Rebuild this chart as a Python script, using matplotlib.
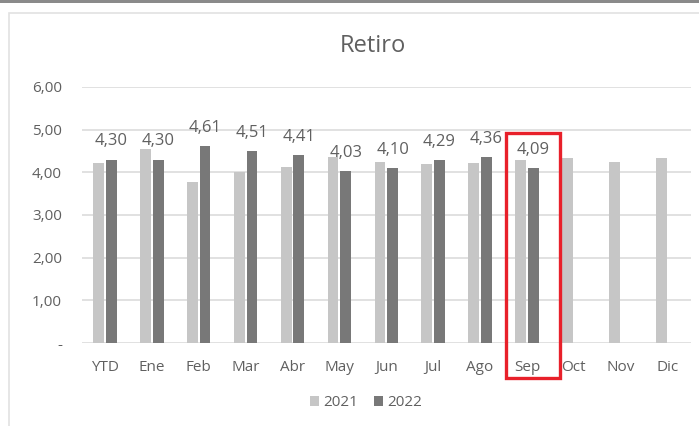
import numpy as np
import matplotlib as mpl
import matplotlib.pyplot as plt
from matplotlib.patches import Rectangle

### DATA --------------------------------------------------------------------------
categories = ['YTD', 'Ene', 'Feb', 'Mar', 'Abr', 'May', 'Jun',
              'Jul', 'Ago', 'Sep', 'Oct', 'Nov', 'Dic']
vals_2021 = [4.22, 4.54, 3.77, 4.00, 4.12, 4.35, 4.24,
             4.19, 4.21, 4.30, 4.33, 4.24, 4.33]
vals_2022 = [4.30, 4.30, 4.61, 4.51, 4.41, 4.03, 4.10,
             4.29, 4.36, 4.09]
yticks = [0, 1, 2, 3, 4, 5, 6]
ytick_labels = ['-', '1,00', '2,00', '3,00', '4,00', '5,00', '6,00']
highlight = 'Sep'
###--------------------------------------------------------------------------------

plt.rcParams['font.family'] = ['Open Sans', 'DejaVu Sans']
txt_col = '#606060'
c21 = '#c6c6c6'
c22 = '#787878'

fig = plt.figure(figsize=(6.99, 4.26), dpi=100)
fig.patch.set_facecolor('white')

# screenshot frame: dark top band + light chart border
fig.add_artist(Rectangle((0, 1 - 3/426), 1, 3/426, transform=fig.transFigure,
                         facecolor='#8a8a8a', edgecolor='none'))
fig.add_artist(Rectangle((9/699, -0.02), 1.0, 1 - 13/426 + 0.02,
                         transform=fig.transFigure, facecolor='none',
                         edgecolor='#e2e2e2', lw=1.2))

ax = fig.add_axes([81.5/699, 83/426, 609.5/699, 256/426])

x = np.arange(len(categories))
w = 0.23
off = 0.135
ax.bar(x - off, vals_2021, width=w, color=c21, label='2021', zorder=3)
x22 = x[:len(vals_2022)]
ax.bar(x22 + off, vals_2022, width=w, color=c22, label='2022', zorder=3)

for xi, v in zip(x22, vals_2022):
    ax.annotate(f'{v:.2f}'.replace('.', ','), (xi + off, v),
                xytext=(0, 13), textcoords='offset points',
                ha='center', va='center', fontsize=12, color=txt_col)

ax.set_xlim(-0.5, len(categories) - 0.5)
ax.set_ylim(0, 6)
ax.set_yticks(yticks)
ax.set_yticklabels(ytick_labels)
ax.set_xticks(x)
ax.set_xticklabels(categories)
ax.tick_params(axis='both', length=0, labelsize=11, labelcolor=txt_col)
ax.tick_params(axis='y', pad=14)
ax.tick_params(axis='x', pad=12)
ax.grid(axis='y', color='#dcdcdc', lw=1.2, zorder=0)
for s in ax.spines.values():
    s.set_visible(False)

# red box around highlighted month
hi = categories.index(highlight)
ax.add_patch(Rectangle((hi - 0.45, -0.82), 1.15, 5.74, fill=False,
                       edgecolor='#e8202a', lw=2.4, clip_on=False, zorder=5))

fig.text(373/699, 1 - 46/426, 'Retiro', ha='center', va='center',
         fontsize=17, color=txt_col)

leg = fig.legend(loc='center', bbox_to_anchor=(366/699, 1 - 403/426),
                 ncol=2, frameon=False, fontsize=11, handlelength=0.6,
                 handleheight=0.6, handletextpad=0.3, columnspacing=1.0)
for t in leg.get_texts():
    t.set_color(txt_col)

plt.savefig('out.png', dpi=100)
plt.close()
